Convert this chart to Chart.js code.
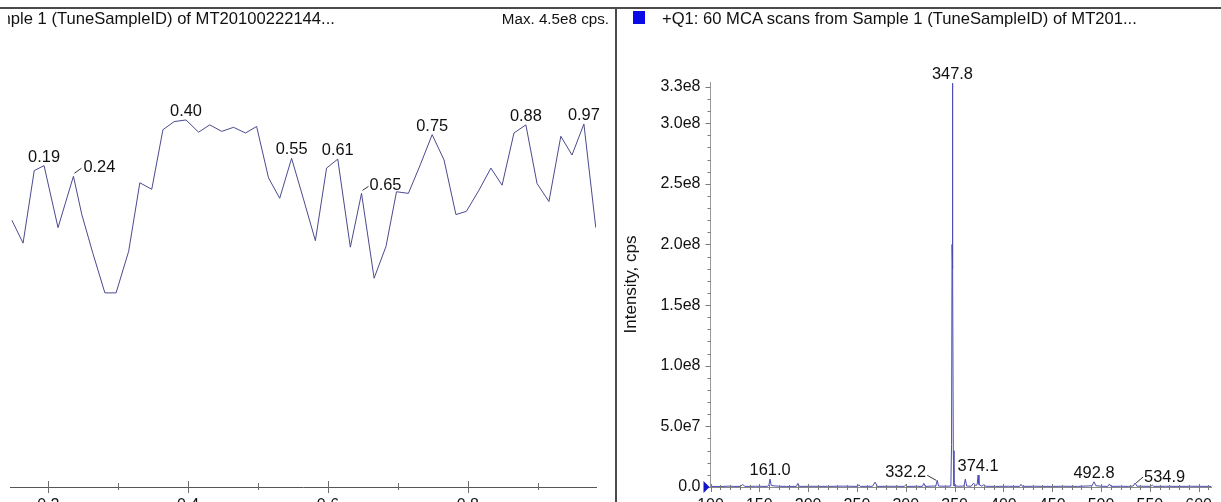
<!DOCTYPE html>
<html>
<head>
<meta charset="utf-8">
<title>TIC and Q1 spectrum</title>
<script src="https://cdn.jsdelivr.net/npm/chart.js@4.4.1/dist/chart.umd.min.js"></script>
<style>
  html, body { margin: 0; padding: 0; background: #fff; width: 1221px; height: 502px; overflow: hidden; }
  body { position: relative; font-family: "Liberation Sans", Arial, sans-serif; color: #111; }
  .pane { position: absolute; top: 0; height: 540px; overflow: hidden; }
  #leftPane { left: 0; width: 616px; }
  #rightPane { left: 617px; width: 604px; }
  .box { position: relative; width: 100%; height: 100%; }
  .txt { position: absolute; font-size: 16.6px; line-height: 18px; white-space: nowrap; }
  #ticTitleClip { position: absolute; left: 8px; top: 10px; width: 400px; height: 20px; overflow: hidden; }
  #topRule { position: absolute; left: 0; top: 7px; width: 1221px; height: 2px; background: #4a4a4a; }
  #divider { position: absolute; left: 615px; top: 7px; width: 2px; height: 495px; background: #4a4a4a; }
  #swatch { position: absolute; left: 633px; top: 11px; width: 12px; height: 13px; background: #0b0be8; }
</style>
</head>
<body>
<div class="pane" id="leftPane"><div class="box"><canvas id="ticChart"></canvas></div></div>
<div class="pane" id="rightPane"><div class="box"><canvas id="specChart"></canvas></div></div>
<div id="topRule"></div>
<div id="divider"></div>
<div id="swatch"></div>
<div id="ticTitleClip"><div class="txt" id="ticTitle" style="left:-11px; top:0;">mple 1 (TuneSampleID) of MT20100222144...</div></div>
<div class="txt" id="ticMax" style="right:612px; top:10px; font-size:15.2px;"></div>
<div class="txt" id="specTitle" style="left:662px; top:10px;">+Q1: 60 MCA scans from Sample 1 (TuneSampleID) of MT201...</div>

<script>
// ---- TIC trace: retention time (min) and total intensity (cps) per scan ----
const ticTimes = [
  0.148, 0.164, 0.180, 0.194, 0.214, 0.236, 0.248, 0.264, 0.281, 0.297,
  0.315, 0.331, 0.348, 0.364, 0.380, 0.397, 0.415, 0.431, 0.448, 0.465,
  0.482, 0.498, 0.515, 0.531, 0.548, 0.565, 0.582, 0.598, 0.614, 0.632,
  0.648, 0.666, 0.683, 0.698, 0.715, 0.732, 0.749, 0.766, 0.783, 0.798,
  0.816, 0.833, 0.849, 0.866, 0.883, 0.899, 0.916, 0.933, 0.949, 0.966,
  0.983
];
const ticIntensity = [
  3.27e8, 2.99e8, 3.88e8, 3.94e8, 3.18e8, 3.81e8, 3.34e8, 2.86e8, 2.38e8, 2.38e8,
  2.89e8, 3.73e8, 3.65e8, 4.38e8, 4.48e8, 4.50e8, 4.35e8, 4.44e8, 4.36e8, 4.41e8,
  4.34e8, 4.42e8, 3.79e8, 3.54e8, 4.03e8, 3.53e8, 3.02e8, 3.91e8, 4.02e8, 2.94e8,
  3.60e8, 2.56e8, 2.95e8, 3.62e8, 3.60e8, 3.95e8, 4.32e8, 4.01e8, 3.34e8, 3.38e8,
  3.64e8, 3.91e8, 3.70e8, 4.34e8, 4.44e8, 3.72e8, 3.50e8, 4.30e8, 4.07e8, 4.45e8,
  3.18e8
];
// annotated apexes of the TIC (retention times present in ticTimes)
const ticPeakTimes = [0.194, 0.236, 0.397, 0.548, 0.614, 0.648, 0.749, 0.883, 0.966];
const ticMajorTicks = [0.2, 0.4, 0.6, 0.8];
const ticTickLabels = ['0.2', '0.4', '0.6', '0.8'];
const ticMinorTicks = [0.3, 0.5, 0.7, 0.9];

// ---- Q1 spectrum: m/z and intensity (cps) ----
const specMz = [
  100, 112, 118, 124, 131, 133, 135, 146, 158, 159.8,
  161.0, 162.2, 170, 178, 188, 189.5, 191, 205, 220, 236,
  250.5, 252, 253.5, 266, 268.5, 271, 285, 298.5, 300, 301.5,
  312, 317, 318.5, 320, 326, 330.8, 332.2, 333.6, 340, 346.2,
  346.9, 347.4, 347.8, 348.2, 348.7, 349.4, 354, 359.6, 361.0, 362.4,
  367, 369.5, 372, 373.2, 374.1, 375.0, 378, 380, 382, 392,
  405, 416.5, 418, 419.5, 432, 448, 462, 476, 490.8, 492.8,
  494.8, 502, 507, 508.6, 510.2, 520, 528, 533, 534.9, 536.8,
  545, 551, 552.5, 554, 566, 580, 592, 613
];
const specIntensity = [
  0.5e6, 0.4e6, 0.7e6, 0.5e6, 0.5e6, 2.2e6, 0.5e6, 0.6e6, 0.5e6, 1.5e6,
  6.5e6, 1.2e6, 0.6e6, 0.5e6, 0.5e6, 3.0e6, 0.5e6, 0.6e6, 0.5e6, 0.7e6,
  0.5e6, 1.8e6, 0.5e6, 0.6e6, 4.0e6, 0.5e6, 0.6e6, 0.5e6, 1.6e6, 0.5e6,
  0.6e6, 0.5e6, 3.0e6, 0.5e6, 0.7e6, 0.8e6, 5.5e6, 0.8e6, 0.6e6, 0.8e6,
  3.5e7, 2.0e8, 3.33e8, 1.8e8, 3.0e7, 1.0e6, 0.6e6, 0.8e6, 6.5e6, 0.8e6,
  0.6e6, 3.2e6, 1.0e6, 2.5e6, 9.8e6, 2.0e6, 0.7e6, 2.0e6, 0.6e6, 0.5e6,
  0.6e6, 0.5e6, 2.2e6, 0.5e6, 0.6e6, 0.5e6, 0.6e6, 0.5e6, 1.0e6, 4.3e6,
  1.0e6, 0.6e6, 0.5e6, 2.4e6, 0.5e6, 0.6e6, 0.5e6, 0.8e6, 3.3e6, 0.7e6,
  0.6e6, 0.5e6, 1.5e6, 0.5e6, 0.6e6, 0.5e6, 0.6e6, 0.5e6
];
// labelled centroids (values present in specMz)
const specPeakMz = [161.0, 332.2, 347.8, 374.1, 492.8, 534.9];
const specXMajor = [100, 150, 200, 250, 300, 350, 400, 450, 500, 550, 600];
const specXLabels = ['100', '150', '200', '250', '300', '350', '400', '450', '500', '550', '600'];
const specYMajor = [0, 5.0e7, 1.0e8, 1.5e8, 2.0e8, 2.5e8, 3.0e8, 3.3e8];
const specYLabels = ['0.0', '5.0e7', '1.0e8', '1.5e8', '2.0e8', '2.5e8', '3.0e8', '3.3e8'];

// ---- styling ----
const FONT_FAMILY = '"Liberation Sans", Arial, sans-serif';
const TEXT = '#111';
const ANNOT_FONT = '16.4px ' + FONT_FAMILY;
// labels drawn beside their apex with a short leader instead of centred above it
const ticLeaders = { '0.24': { dx: 10, base: -4, lx0: 1, ly0: -3, lx1: 8, ly1: -8 },
                     '0.65': { dx: 8, base: -3, lx0: 1, ly0: -3, lx1: 7, ly1: -7 } };
const specLeaders = { '332.2': { dx: -11, base: -3, align: 'right', lx0: -10, ly0: -5, lx1: -1, ly1: 0 },
                      '534.9': { dx: 9, base: -1, align: 'left', lx0: 1, ly0: 0, lx1: 8, ly1: -6 } };

Chart.defaults.font.family = FONT_FAMILY;
Chart.defaults.font.size = 16;
Chart.defaults.color = TEXT;

const maxTic = Math.max(...ticIntensity);
document.getElementById('ticMax').textContent =
  'Max. ' + maxTic.toExponential(1).replace('+', '') + ' cps.';

function drawLabel(ctx, text, px, py, leader) {
  if (leader) {
    ctx.beginPath();
    ctx.moveTo(px + leader.lx0, py + leader.ly0);
    ctx.lineTo(px + leader.lx1, py + leader.ly1);
    ctx.stroke();
    ctx.textAlign = leader.align || 'left';
    ctx.fillText(text, px + leader.dx, py + leader.base);
  } else {
    ctx.textAlign = 'center';
    ctx.fillText(text, px, py - 4);
  }
}

const ticMarks = {
  id: 'ticMarks',
  afterDraw(chart) {
    const { ctx, scales: { x, y } } = chart;
    const base = x.top;
    ctx.save();
    ctx.strokeStyle = '#6e6e6e';
    ctx.lineWidth = 1;
    ctx.beginPath();
    ticMajorTicks.forEach(v => {
      const px = Math.round(x.getPixelForValue(v)) + 0.5;
      ctx.moveTo(px, base - 6); ctx.lineTo(px, base + 6);
    });
    ticMinorTicks.forEach(v => {
      const px = Math.round(x.getPixelForValue(v)) + 0.5;
      ctx.moveTo(px, base - 4); ctx.lineTo(px, base + 3);
    });
    ctx.stroke();
    ctx.font = ANNOT_FONT;
    ctx.fillStyle = TEXT;
    ctx.strokeStyle = '#333';
    ctx.textBaseline = 'alphabetic';
    ticPeakTimes.forEach(t => {
      const i = ticTimes.indexOf(t);
      const px = x.getPixelForValue(t);
      const py = y.getPixelForValue(ticIntensity[i]);
      const text = t.toFixed(2);
      drawLabel(ctx, text, px, py, ticLeaders[text]);
    });
    ctx.restore();
  }
};

const specMarks = {
  id: 'specMarks',
  afterDraw(chart) {
    const { ctx, scales: { x, y } } = chart;
    const base = x.top;
    const axisX = y.right;
    ctx.save();
    ctx.strokeStyle = '#7a7a7a';
    ctx.lineWidth = 1;
    ctx.beginPath();
    // m/z ticks: every 10, longer at the labelled ones
    for (let v = x.min - (x.min % 10); v <= x.max; v += 10) {
      if (v < x.min) continue;
      const px = Math.round(x.getPixelForValue(v)) + 0.5;
      const major = specXMajor.includes(v);
      ctx.moveTo(px, base - (major ? 3 : 2));
      ctx.lineTo(px, base + (major ? 5 : 3));
    }
    // intensity ticks: every 1e7, longer at the labelled ones
    for (let v = 0; v <= y.max; v += 1e7) {
      const py = Math.round(y.getPixelForValue(v)) + 0.5;
      const major = specYMajor.some(m => Math.abs(m - v) < 1);
      ctx.moveTo(axisX - (major ? 5 : 3), py);
      ctx.lineTo(axisX, py);
    }
    ctx.stroke();
    // zero-level marker
    const y0 = y.getPixelForValue(0);
    ctx.fillStyle = '#1414c8';
    ctx.beginPath();
    ctx.moveTo(axisX - 1, y0);
    ctx.lineTo(axisX - 7, y0 - 6);
    ctx.lineTo(axisX - 7, y0 + 6);
    ctx.closePath();
    ctx.fill();
    // peak annotations
    ctx.font = ANNOT_FONT;
    ctx.fillStyle = TEXT;
    ctx.strokeStyle = '#333';
    ctx.textBaseline = 'alphabetic';
    specPeakMz.forEach(m => {
      const i = specMz.indexOf(m);
      const px = x.getPixelForValue(m);
      const py = y.getPixelForValue(specIntensity[i]);
      const text = m.toFixed(1);
      drawLabel(ctx, text, px, py, specLeaders[text]);
    });
    ctx.restore();
  }
};

new Chart(document.getElementById('ticChart'), {
  type: 'line',
  data: {
    datasets: [{
      data: ticTimes.map((t, i) => ({ x: t, y: ticIntensity[i] })),
      borderColor: '#4a4a8e',
      borderWidth: 1,
      pointRadius: 0,
      tension: 0,
      fill: false
    }]
  },
  options: {
    responsive: true,
    maintainAspectRatio: false,
    animation: false,
    events: [],
    layout: { padding: { left: 10, right: 20, top: 38.4, bottom: 0 } },
    plugins: { legend: { display: false }, tooltip: { enabled: false } },
    scales: {
      x: {
        type: 'linear',
        min: 0.1453,
        max: 0.9833,
        afterBuildTicks: s => { s.ticks = ticMajorTicks.map(v => ({ value: v })); },
        afterFit: s => { s.height = 53; },
        grid: { display: false, drawTicks: false },
        border: { display: true, color: '#555', width: 1 },
        ticks: {
          autoSkip: false, maxRotation: 0, padding: 9, color: TEXT,
          callback: (v, i) => ticTickLabels[i]
        }
      },
      y: { display: false, min: 0, max: 5.5e8 }
    }
  },
  plugins: [ticMarks]
});

new Chart(document.getElementById('specChart'), {
  type: 'line',
  data: {
    datasets: [{
      data: specMz.map((m, i) => ({ x: m, y: specIntensity[i] })),
      borderColor: '#4c4cb4',
      borderWidth: 1,
      pointRadius: 0,
      tension: 0,
      fill: false
    }]
  },
  options: {
    responsive: true,
    maintainAspectRatio: false,
    animation: false,
    events: [],
    layout: { padding: { left: 0, right: 0, top: 82, bottom: 0 } },
    plugins: { legend: { display: false }, tooltip: { enabled: false } },
    scales: {
      x: {
        type: 'linear',
        min: 100,
        max: 613.6,
        afterBuildTicks: s => { s.ticks = specXMajor.map(v => ({ value: v })); },
        afterFit: s => { s.height = 53; },
        grid: { display: false, drawTicks: false },
        border: { display: true, color: '#8a8a8a', width: 1 },
        ticks: {
          autoSkip: false, maxRotation: 0, padding: 9, color: TEXT,
          callback: (v, i) => specXLabels[i]
        }
      },
      y: {
        type: 'linear',
        min: 0,
        max: 3.34e8,
        afterBuildTicks: s => { s.ticks = specYMajor.map(v => ({ value: v })); },
        afterFit: s => { s.width = 93.5; },
        grid: { display: false, drawTicks: false },
        border: { display: true, color: '#9a9a9a', width: 1 },
        ticks: {
          autoSkip: false, padding: 10, color: TEXT,
          callback: (v, i) => specYLabels[i]
        },
        title: {
          display: true, text: 'Intensity, cps', color: TEXT,
          font: { size: 17 }, padding: { top: 4, bottom: 0 }
        }
      }
    }
  },
  plugins: [specMarks]
});
</script>
</body>
</html>
